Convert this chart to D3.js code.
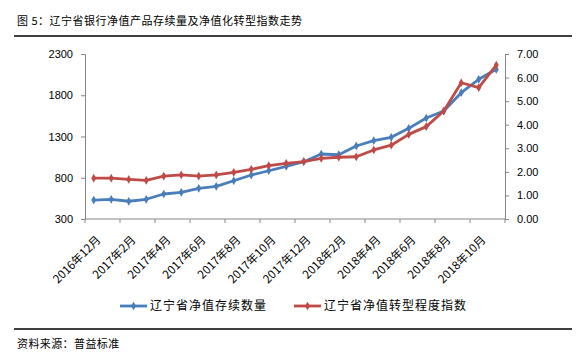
<!DOCTYPE html>
<html><head><meta charset="utf-8">
<script src="https://cdn.jsdelivr.net/npm/d3@7"></script>
<style>
body{margin:0;background:#fff;}
svg{display:block;}
text{font-family:"Liberation Sans",Arial,sans-serif;}
.cjk{font-family:"Noto Sans CJK SC",sans-serif;}
</style></head>
<body>
<svg id="c" width="586" height="363"></svg>
<script>
const categories = ["2016年12月","2017年1月","2017年2月","2017年3月","2017年4月","2017年5月","2017年6月","2017年7月","2017年8月","2017年9月","2017年10月","2017年11月","2017年12月","2018年1月","2018年2月","2018年3月","2018年4月","2018年5月","2018年6月","2018年7月","2018年8月","2018年9月","2018年10月","2018年11月"];
const tickLabels = ["2016年12月","2017年2月","2017年4月","2017年6月","2017年8月","2017年10月","2017年12月","2018年2月","2018年4月","2018年6月","2018年8月","2018年10月"];
const stockCount = [530,539,515,539,603,624,672,696,764,833,885,939,995,1088,1079,1185,1249,1290,1399,1524,1609,1831,1993,2115];
const transIndex = [1.73,1.73,1.68,1.64,1.82,1.87,1.82,1.87,1.98,2.11,2.26,2.36,2.43,2.57,2.62,2.64,2.93,3.13,3.59,3.92,4.58,5.78,5.57,6.53];
const leftTicks = [300,800,1300,1800,2300];
const rightTicks = [0,1,2,3,4,5,6,7];
const seriesNames = ["辽宁省净值存续数量","辽宁省净值转型程度指数"];
const colors = ["#4a7ebb","#be4b48"];

const svg = d3.select("#c");
const L=85, R=505, T=54, B=219;
const x = d3.scaleBand().domain(categories).range([L,R]);
const yL = d3.scaleLinear().domain([300,2300]).range([B,T]);
const yR = d3.scaleLinear().domain([0,7]).range([B,T]);
const axisColor="#868686";

// title
svg.append("text").attr("class","cjk").attr("x",17).attr("y",25)
  .attr("font-size",11).attr("letter-spacing",0.5).attr("fill","#000")
  .text("图 5：辽宁省银行净值产品存续量及净值化转型指数走势");
svg.append("line").attr("x1",14).attr("x2",572).attr("y1",36).attr("y2",36)
  .attr("stroke","#000").attr("stroke-width",1.5);
svg.append("line").attr("x1",14).attr("x2",572).attr("y1",329).attr("y2",329)
  .attr("stroke","#000").attr("stroke-width",1.5);
svg.append("text").attr("class","cjk").attr("x",17).attr("y",348)
  .attr("font-size",11).attr("letter-spacing",0.4).attr("fill","#000")
  .text("资料来源：普益标准");

// left axis
const gL = svg.append("g").attr("transform",`translate(${L},0)`)
  .call(d3.axisLeft(yL).tickValues(leftTicks).tickSize(4).tickPadding(8).tickFormat(d3.format("d")));
// right axis
const gR = svg.append("g").attr("transform",`translate(${R},0)`)
  .call(d3.axisRight(yR).tickValues(rightTicks).tickSize(4).tickPadding(8).tickFormat(d3.format(".2f")));
// bottom axis: tick marks at every 2nd band boundary
const boundaries = d3.range(0, categories.length+1, 2);
const gB = svg.append("g");
gB.append("line").attr("x1",L).attr("x2",R).attr("y1",B).attr("y2",B).attr("stroke",axisColor);
gB.selectAll("line.t").data(boundaries).join("line").attr("class","t")
  .attr("x1",i=>L+i*x.step()).attr("x2",i=>L+i*x.step()).attr("y1",B).attr("y2",B+4).attr("stroke",axisColor);
gB.selectAll("text").data(tickLabels).join("text").attr("class","cjk")
  .attr("text-anchor","end").attr("font-size",11.5).attr("fill","#000")
  .attr("transform",d=>`translate(${x(d)+x.bandwidth()/2+2},${B+16}) rotate(-45)`)
  .attr("dy","0.7em")
  .text(d=>d);

[gL,gR].forEach(g=>{
  g.select(".domain").attr("stroke",axisColor);
  g.selectAll(".tick line").attr("stroke",axisColor);
  g.selectAll(".tick text").attr("font-size",11).attr("fill","#000")
   .attr("font-family","Liberation Sans, Arial, sans-serif");
});

const cx = d=>x(d)+x.bandwidth()/2;
const diamond = d3.symbol().type(d3.symbolDiamond).size(22);

function drawSeries(vals, scale, color){
  const pts = categories.map((c,i)=>[cx(c), scale(vals[i])]);
  svg.append("path").attr("d",d3.line()(pts)).attr("fill","none")
    .attr("stroke",color).attr("stroke-width",2.8).attr("stroke-linejoin","round");
  svg.append("g").selectAll("path").data(pts).join("path")
    .attr("transform",p=>`translate(${p[0]},${p[1]})`).attr("d",diamond).attr("fill",color);
}
drawSeries(stockCount, yL, colors[0]);
drawSeries(transIndex, yR, colors[1]);

// legend
const legendX = [120, 294];
seriesNames.forEach((n,i)=>{
  const g = svg.append("g").attr("transform",`translate(${legendX[i]},306)`);
  g.append("line").attr("x1",0).attr("x2",27).attr("stroke",colors[i]).attr("stroke-width",2.8);
  g.append("path").attr("transform","translate(13.5,0)").attr("d",diamond).attr("fill",colors[i]);
  g.append("text").attr("class","cjk").attr("x",30).attr("y",4).attr("font-size",12)
    .attr("letter-spacing",1).attr("fill","#000").text(n);
});
</script>
</body></html>
